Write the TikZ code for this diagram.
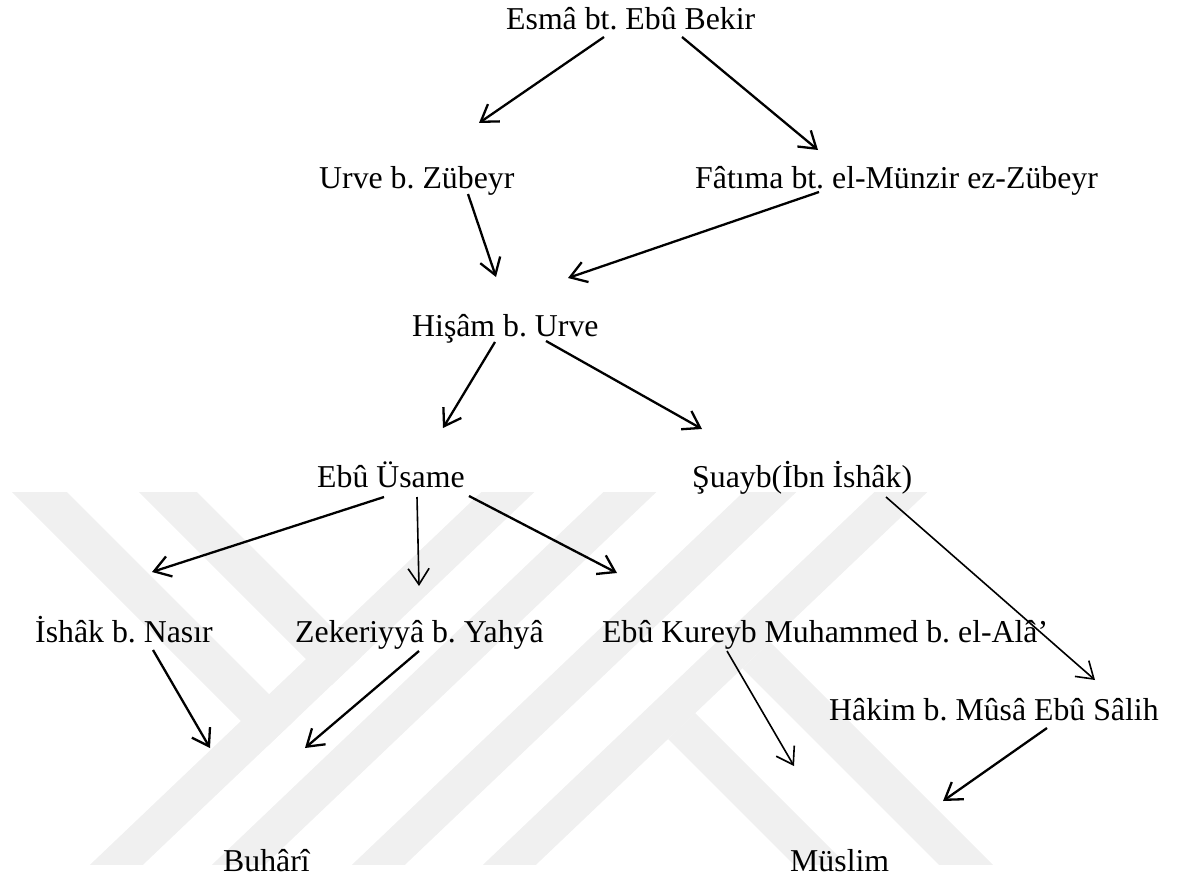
\documentclass[tikz,border=0pt]{standalone}
\usepackage{fontspec}
\setmainfont{Liberation Serif}
\usetikzlibrary{arrows.meta}
\tikzset{
  lbl/.style={inner sep=0pt, anchor=base west, font=\fontsize{31.8}{38}\selectfont\frenchspacing},
  arr/.style={line width=2.3pt, -{Straight Barb[length=16pt,width=21pt]}},
  thinarr/.style={arr, line width=1.6pt},
  wm/.style={fill=black!6, draw=none}
}
\begin{document}
\frenchspacing
\begin{tikzpicture}[x=1pt,y=-1pt]
\useasboundingbox (0,0) rectangle (1177,880);
% watermark
\begin{scope}
\clip (0,492) rectangle (1177,864);
\fill[wm] (494,480) -- (547,480) -- (137.5,870) -- (84.5,870) -- cycle;
\fill[wm] (616,480) -- (669,480) -- (259.5,870) -- (206.5,870) -- cycle;
\fill[wm] (756,480) -- (809,480) -- (399.5,870) -- (346.5,870) -- cycle;
\fill[wm] (887,480) -- (940,480) -- (530.5,870) -- (477.5,870) -- cycle;
\fill[wm] (0,480) -- (55,480) -- (295,720) -- (266.8,746.8) -- cycle;
\fill[wm] (127,480) -- (185,480) -- (361.6,656.6) -- (331.9,684.9) -- cycle;
\fill[wm] (668,739) -- (695,713) -- (852,870) -- (799,870) -- cycle;
\fill[wm] (742.3,668.3) -- (770,642) -- (998,870) -- (944,870) -- cycle;
\end{scope}
% nodes
\node[lbl] (esma) at (506,30) {Esmâ bt. Ebû Bekir};
\node[lbl] (urve) at (319,188) {Urve b. Zübeyr};
\node[lbl] (fatima) at (695,188) {Fâtıma bt. el-Münzir ez-Zübeyr};
\node[lbl] (hisam) at (412,336) {Hişâm b. Urve};
\node[lbl] (usame) at (317,487) {Ebû Üsame};
\node[lbl] (suayb) at (692,487) {Şuayb(İbn İshâk)};
\node[lbl] (ishak) at (35,642) {İshâk b. Nasır};
\node[lbl] (zek) at (295,642) {Zekeriyyâ b. Yahyâ};
\node[lbl] (kureyb) at (602,642) {Ebû Kureyb Muhammed b. el-Alâ’};
\node[lbl] (hakim) at (829,720) {Hâkim b. Mûsâ Ebû Sâlih};
\node[lbl] (buhari) at (223,871) {Buhârî};
\node[lbl] (muslim) at (790,871) {Müslim};
% connector ends
\coordinate (esma-o1) at (604,37);   \coordinate (urve-i) at (479,123);
\coordinate (esma-o2) at (682,37);   \coordinate (fatima-i) at (818,150);
\coordinate (urve-o) at (468,194);   \coordinate (hisam-i1) at (496,277);
\coordinate (fatima-o) at (819,192); \coordinate (hisam-i2) at (568,278);
\coordinate (hisam-o1) at (495,342); \coordinate (usame-i) at (443,428);
\coordinate (hisam-o2) at (546,341); \coordinate (suayb-i) at (702,429);
\coordinate (usame-o1) at (384,497); \coordinate (ishak-i) at (152,572);
\coordinate (usame-o2) at (417,497); \coordinate (zek-i) at (419,586);
\coordinate (usame-o3) at (469,496); \coordinate (kureyb-i) at (617,573);
\coordinate (suayb-o) at (886,497);  \coordinate (hakim-i) at (1095,680);
\coordinate (ishak-o) at (153,650);  \coordinate (buhari-i1) at (210,748);
\coordinate (zek-o) at (419,651);    \coordinate (buhari-i2) at (305,748);
\coordinate (kureyb-o) at (727,651); \coordinate (muslim-i1) at (794,766);
\coordinate (hakim-o) at (1047,728); \coordinate (muslim-i2) at (943,801);
% connectors
\draw[arr] (esma-o1) -- (urve-i);
\draw[arr] (esma-o2) -- (fatima-i);
\draw[arr] (urve-o) -- (hisam-i1);
\draw[arr] (fatima-o) -- (hisam-i2);
\draw[arr] (hisam-o1) -- (usame-i);
\draw[arr] (hisam-o2) -- (suayb-i);
\draw[arr] (usame-o1) -- (ishak-i);
\draw[thinarr] (usame-o2) -- (zek-i);
\draw[arr] (usame-o3) -- (kureyb-i);
\draw[thinarr] (suayb-o) -- (hakim-i);
\draw[arr] (ishak-o) -- (buhari-i1);
\draw[arr] (zek-o) -- (buhari-i2);
\draw[thinarr] (kureyb-o) -- (muslim-i1);
\draw[arr] (hakim-o) -- (muslim-i2);
\end{tikzpicture}
\end{document}
